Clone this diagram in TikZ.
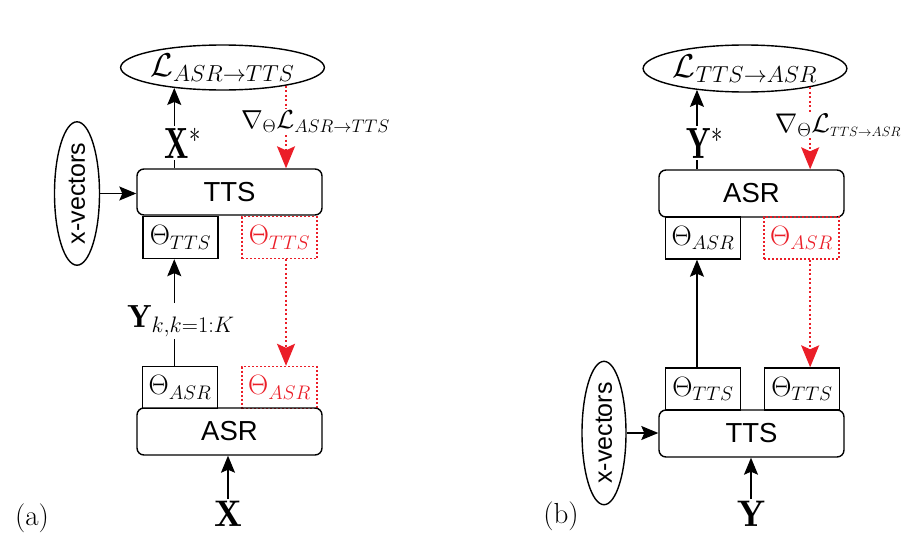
\RequirePackage{fix-cm}
\documentclass[tikz,border=0pt]{standalone}
\usepackage{fontspec}
\setsansfont{Liberation Sans}
\usetikzlibrary{shapes.geometric,arrows.meta}
\definecolor{myred}{RGB}{235,30,40}
\newcommand{\fsz}[1]{\fontsize{#1pt}{#1pt}\selectfont}
\begin{document}
\begin{tikzpicture}[x=1pt,y=-1pt,
  blk/.style={draw=black, line width=1.4pt, rounded corners=7pt, minimum width=185pt, minimum height=46pt, font={\sffamily\fsz{27.5}}, inner sep=0pt},
  th/.style={draw=black, line width=1.4pt, minimum width=75pt, minimum height=42pt, inner sep=0pt, font={\fsz{28}}},
  thr/.style={th, draw=myred, text=myred, dash pattern=on 2pt off 2pt},
  ell/.style={ellipse, draw, line width=1.4pt, inner sep=0pt},
  xv/.style={ell, minimum width=45pt, minimum height=132pt},
  lab/.style={inner sep=2pt},
  ln/.style={line width=1.2pt},
  arr/.style={line width=1.2pt, -{Stealth[length=17pt,width=14pt,inset=3pt]}},
  rdot/.style={draw=myred, line width=1.5pt, dash pattern=on 2pt off 2.5pt},
  rtip/.style={-{Stealth[length=22pt,width=18pt,inset=4pt]}}
]
\useasboundingbox (0,0) rectangle (911,557);

% ---------- panel (a)
\node[ell, minimum width=199pt, minimum height=45pt, font={\fsz{33}}] (LA) at (222.5,67.5) {$\mathcal{L}_{ASR\rightarrow TTS}$};
\coordinate (ca) at (LA.203);
\coordinate (cr) at (LA.-16);
\node[blk] (TTSa) at (229.5,192) {TTS};
\node[xv] (xva) at (77,193.5) {\rotatebox{90}{\sffamily\fsz{25}x-vectors}};
\node[th] (ThTa) at (180.5,237.5) {$\Theta_{TTS}$};
\node[thr] (ThTaR) at (279.5,237.5) {$\Theta_{TTS}$};
\node[th] (ThAa) at (180,387.5) {$\Theta_{ASR}$};
\node[thr] (ThAaR) at (279.5,387.5) {$\Theta_{ASR}$};
\node[blk, minimum height=47pt] (ASRa) at (229.5,431.5) {ASR};
\node[lab, font={\fsz{37}}] (Xa) at (228,514) {$\mathbf{X}$};
\node[lab, font={\fsz{38}}] (Xs) at (183,143) {\scalebox{0.85}[1.15]{$\mathbf{X}^{*}$}};
\node[lab, font={\fsz{26}}] (gA) at (315.5,122) {$\nabla_{\Theta}\mathcal{L}_{ASR\rightarrow TTS}$};
\node[lab, font={\fsz{32}}] (Yk) at (181,321) {$\mathbf{Y}_{k,k=1:K}$};
\node[font={\fsz{29}}] (la) at (32,518) {(a)};

\draw[arr] (xva.east) -- (xva.east -| TTSa.west);
\draw[ln] (TTSa.north -| ca) -- (Xs.south -| ca);
\draw[arr] (Xs.north -| ca) -- (ca);
\draw[rdot] (cr) -- (gA.north -| cr);
\draw[rdot, rtip] (gA.south -| cr) -- (TTSa.north -| cr);
\draw[rdot, rtip] (ThTaR.south -| cr) -- (ThAaR.north -| cr);
\draw[ln] (ThAa.north -| ca) -- (Yk.south -| ca);
\draw[arr] (Yk.north -| ca) -- (ThTa.south -| ca);
\draw[arr] (Xa.north) -- (Xa.north |- ASRa.south);

% ---------- panel (b)
\node[ell, minimum width=200pt, minimum height=47pt, font={\fsz{33}}] (LB) at (745,68.5) {$\mathcal{L}_{TTS\rightarrow ASR}$};
\coordinate (cb) at (LB.204);
\coordinate (crb) at (LB.-16.5);
\node[blk, minimum height=47pt] (ASRb) at (751.5,193.5) {ASR};
\node[th] (ThAb) at (703,238) {$\Theta_{ASR}$};
\node[thr] (ThAbR) at (801.5,238) {$\Theta_{ASR}$};
\node[th] (ThTb) at (703,389) {$\Theta_{TTS}$};
\node[th] (ThTb2) at (802,389) {$\Theta_{TTS}$};
\node[blk, minimum height=47pt] (TTSb) at (751.5,433.5) {TTS};
\node[xv, minimum width=44pt, minimum height=130pt] (xvb) at (604,433) {\rotatebox{90}{\sffamily\fsz{25}x-vectors}};
\node[lab, font={\fsz{37}}] (Yb) at (751,514) {$\mathbf{Y}$};
\node[lab, font={\fsz{38}}] (Ys) at (705,143) {\scalebox{0.85}[1.15]{$\mathbf{Y}^{*}$}};
\node[lab, font={\fsz{27}}] (gB) at (838,125) {$\nabla_{\Theta}\mathcal{L}_{\scriptscriptstyle TTS\rightarrow ASR}$};
\node[font={\fsz{29}}] (lb) at (561,516) {(b)};

\draw[arr] (xvb.east) -- (xvb.east -| TTSb.west);
\draw[ln] (ASRb.north -| cb) -- (Ys.south -| cb);
\draw[arr] (Ys.north -| cb) -- (cb);
\draw[rdot] (crb) -- (gB.north -| crb);
\draw[rdot, rtip] (gB.south -| crb) -- (ASRb.north -| crb);
\draw[rdot, rtip] (ThAbR.south -| crb) -- (ThTb2.north -| crb);
\draw[arr] (ThTb.north -| cb) -- (ThAb.south -| cb);
\draw[arr] (Yb.north) -- (Yb.north |- TTSb.south);
\end{tikzpicture}
\end{document}
